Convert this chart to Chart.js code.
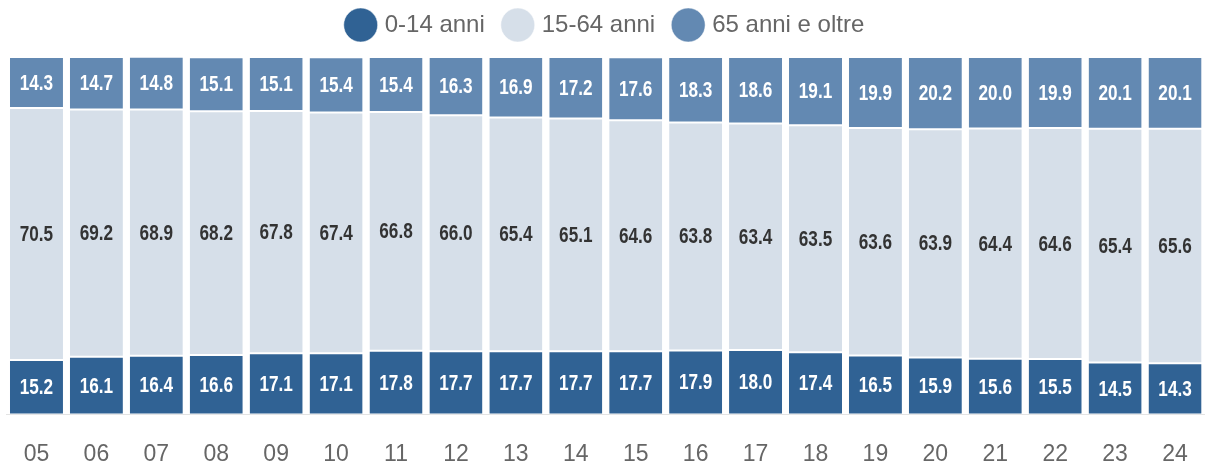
<!DOCTYPE html>
<html>
<head>
<meta charset="utf-8">
<script src="https://cdn.jsdelivr.net/npm/chart.js@4.4.1/dist/chart.umd.min.js"></script>
<style>
  html, body { margin: 0; padding: 0; background: #fff; }
  #wrap { width: 1205px; height: 465px; position: relative; }
</style>
</head>
<body>
<div id="wrap"><canvas id="grafico"></canvas></div>
<script>
// anni (etichette asse x)
const anni = ['05','06','07','08','09','10','11','12','13','14','15','16','17','18','19','20','21','22','23','24'];
// quote percentuali per fascia d'eta
const giovani = [15.2,16.1,16.4,16.6,17.1,17.1,17.8,17.7,17.7,17.7,17.7,17.9,18.0,17.4,16.5,15.9,15.6,15.5,14.5,14.3];
const adulti  = [70.5,69.2,68.9,68.2,67.8,67.4,66.8,66.0,65.4,65.1,64.6,63.8,63.4,63.5,63.6,63.9,64.4,64.6,65.4,65.6];
const anziani = [14.3,14.7,14.8,15.1,15.1,15.4,15.4,16.3,16.9,17.2,17.6,18.3,18.6,19.1,19.9,20.2,20.0,19.9,20.1,20.1];
const nomiSerie = ['0-14 anni','15-64 anni','65 anni e oltre'];

const coloriSerie = ['#306294','#d6dfe9','#6389b2'];
const coloriTesto = ['#ffffff','#333333','#ffffff'];

// etichette dentro le barre (testo un po' stretto come nell'originale)
const etichette = {
  id: 'etichette',
  afterDatasetsDraw(chart){
    const ctx = chart.ctx;
    chart.data.datasets.forEach((ds, i) => {
      const meta = chart.getDatasetMeta(i);
      meta.data.forEach((bar, j) => {
        const y = (bar.y + bar.base) / 2;
        ctx.save();
        ctx.translate(bar.x, y + 1);
        ctx.scale(0.78, 1);
        ctx.font = 'bold 22px "Liberation Sans", Arial, sans-serif';
        ctx.textAlign = 'center';
        ctx.textBaseline = 'middle';
        ctx.fillStyle = coloriTesto[i];
        ctx.fillText(ds.data[j].toFixed(1), 0, 0);
        ctx.restore();
      });
    });
  }
};

// un po' di spazio in piu sotto la legenda
const spazioLegenda = {
  id: 'spazioLegenda',
  beforeInit(chart){
    const fitOrig = chart.legend.fit;
    chart.legend.fit = function(){
      fitOrig.bind(chart.legend)();
      this.height += 10;
    };
  }
};

function serie(label, data, i){
  return {
    label: label,
    data: data,
    backgroundColor: coloriSerie[i],
    borderColor: '#ffffff',
    borderWidth: {top: 1, bottom: 1, left: 0, right: 0},
    borderSkipped: false,
    barPercentage: 0.885,
    categoryPercentage: 1
  };
}

new Chart(document.getElementById('grafico'), {
  type: 'bar',
  data: {
    labels: anni,
    datasets: [
      serie(nomiSerie[0], giovani, 0),
      serie(nomiSerie[1], adulti, 1),
      serie(nomiSerie[2], anziani, 2)
    ]
  },
  options: {
    responsive: true,
    maintainAspectRatio: false,
    animation: false,
    layout: { padding: { top: -8, left: 6.5, right: -1.5, bottom: -29 } },
    plugins: {
      tooltip: { enabled: false },
      legend: {
        position: 'top',
        labels: {
          usePointStyle: true,
          pointStyle: 'circle',
          color: '#666666',
          padding: 21,
          font: { family: '"Liberation Sans", Arial, sans-serif', size: 24, lineHeight: 1.0 }
        }
      }
    },
    scales: {
      x: {
        stacked: true,
        grid: { display: false, drawTicks: false },
        border: { display: true, color: '#e3e3e3', width: 1 },
        ticks: {
          color: '#666666',
          padding: 26,
          font: { family: '"Liberation Sans", Arial, sans-serif', size: 23 }
        },
        // niente margine laterale per le etichette: le barre arrivano ai bordi
        afterFit(scala){
          scala.paddingLeft = 0;
          scala.paddingRight = 0;
        }
      },
      y: {
        stacked: true,
        display: false,
        min: 0,
        max: 100
      }
    }
  },
  plugins: [etichette, spazioLegenda]
});
</script>
</body>
</html>
